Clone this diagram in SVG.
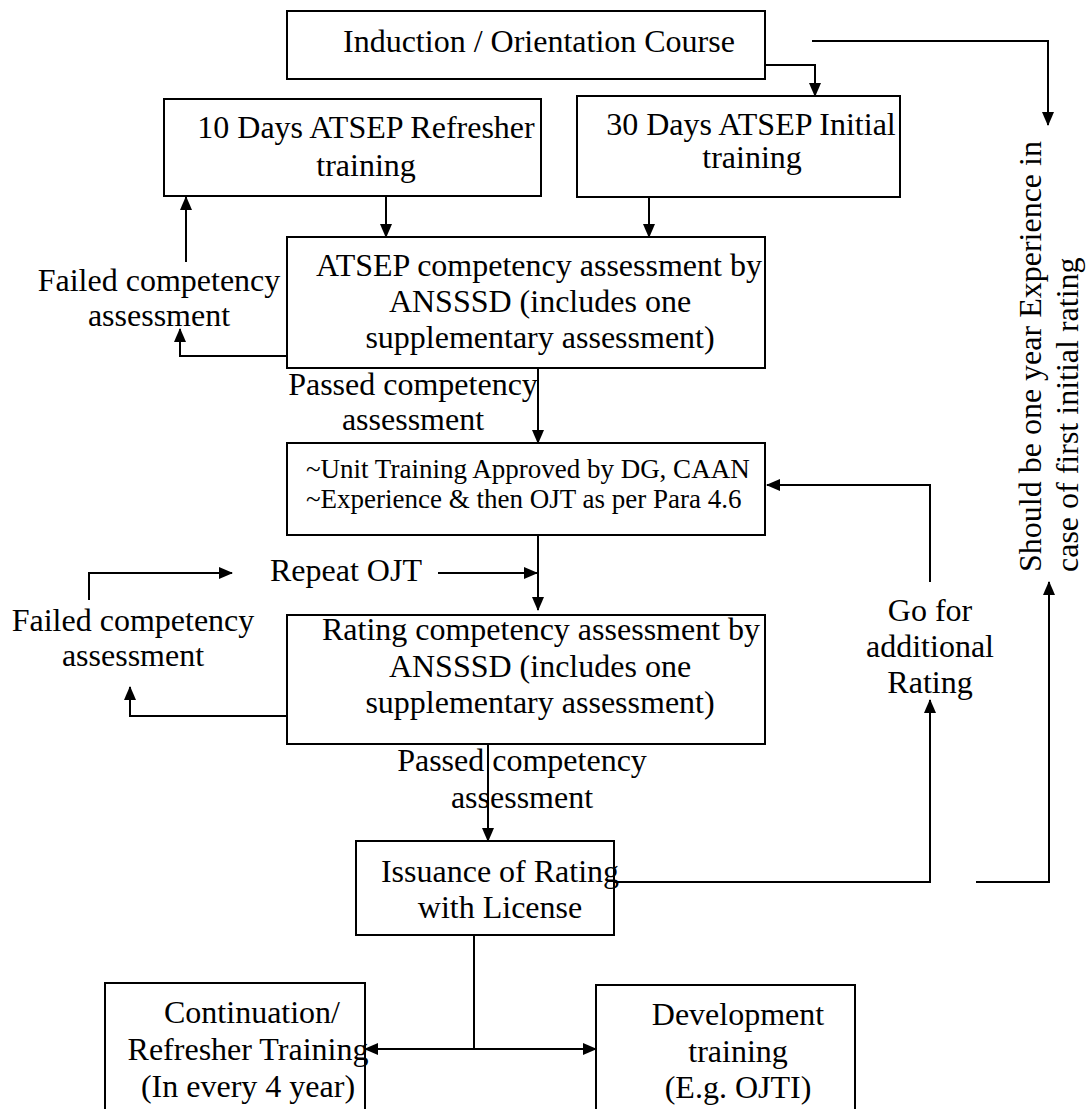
<svg xmlns="http://www.w3.org/2000/svg" width="1091" height="1109" viewBox="0 0 1091 1109">
<style>
.box{fill:#fff;stroke:#000;stroke-width:2}
.t{font-family:"Liberation Serif","Times New Roman",serif;font-size:32px;fill:#000}
.s{font-size:27px}
.c{text-anchor:middle}
.ln{fill:none;stroke:#000;stroke-width:2}
</style>
<defs>
<marker id="ah" markerUnits="userSpaceOnUse" markerWidth="14" markerHeight="12" refX="13" refY="6" orient="auto-start-reverse" viewBox="0 0 14 12">
<path d="M0,0 L14,6 L0,12 z" fill="#000"/>
</marker>
</defs>
<rect width="1091" height="1109" fill="#fff"/>

<g id="connectors">
<path class="ln" d="M765,65 H815 V96" marker-end="url(#ah)"/>
<path class="ln" d="M812,41 H1048 V125" marker-end="url(#ah)"/>
<path class="ln" d="M386,196 V237" marker-end="url(#ah)"/>
<path class="ln" d="M649,197 V237" marker-end="url(#ah)"/>
<path class="ln" d="M186,262 V197" marker-end="url(#ah)"/>
<path class="ln" d="M287,356 H180 V329" marker-end="url(#ah)"/>
<path class="ln" d="M538,368 V443" marker-end="url(#ah)"/>
<path class="ln" d="M538,535 V610" marker-end="url(#ah)"/>
<path class="ln" d="M89,600 V573 H232" marker-end="url(#ah)"/>
<path class="ln" d="M438,573 H537" marker-end="url(#ah)"/>
<path class="ln" d="M287,716 H130 V687" marker-end="url(#ah)"/>
<path class="ln" d="M488,744 V841" marker-end="url(#ah)"/>
<path class="ln" d="M614,882 H930 V700" marker-end="url(#ah)"/>
<path class="ln" d="M930,582 V485 H767" marker-end="url(#ah)"/>
<path class="ln" d="M976,882 H1049 V582" marker-end="url(#ah)"/>
<path class="ln" d="M474,935 V1049"/>
<path class="ln" d="M365,1049 H596" marker-start="url(#ah)" marker-end="url(#ah)"/>
</g>

<g id="induction">
<rect class="box" x="287" y="11" width="478" height="68"/>
<text class="t" x="343" y="52">Induction / Orientation Course</text>
</g>

<g id="refresher10">
<rect class="box" x="164" y="99" width="377" height="97"/>
<text class="t c" x="366" y="138">10 Days ATSEP Refresher</text>
<text class="t c" x="366" y="176">training</text>
</g>

<g id="initial30">
<rect class="box" x="577" y="96" width="323" height="101"/>
<text class="t c" x="751" y="135">30 Days ATSEP Initial</text>
<text class="t c" x="752" y="168">training</text>
</g>

<g id="atsep-assessment">
<rect class="box" x="287" y="237" width="478" height="131"/>
<text class="t c" x="539" y="276">ATSEP competency assessment by</text>
<text class="t c" x="540" y="312">ANSSSD (includes one</text>
<text class="t c" x="540" y="348">supplementary assessment)</text>
</g>

<g id="failed1">
<text class="t c" x="159" y="291">Failed competency</text>
<text class="t c" x="159" y="326">assessment</text>
</g>

<g id="passed1">
<text class="t c" x="413" y="395">Passed competency</text>
<text class="t c" x="413" y="430">assessment</text>
</g>

<g id="unit-training">
<rect class="box" x="287" y="443" width="478" height="92"/>
<text class="t s" x="306" y="478">~Unit Training Approved by DG, CAAN</text>
<text class="t s" x="306" y="508">~Experience &amp; then OJT as per Para 4.6</text>
</g>

<g id="repeat-ojt">
<text class="t" x="270" y="581">Repeat OJT</text>
</g>

<g id="failed2">
<text class="t c" x="133" y="631">Failed competency</text>
<text class="t c" x="133" y="666">assessment</text>
</g>

<g id="rating-assessment">
<rect class="box" x="287" y="615" width="478" height="129"/>
<text class="t c" x="541" y="640">Rating competency assessment by</text>
<text class="t c" x="540" y="677">ANSSSD (includes one</text>
<text class="t c" x="540" y="713">supplementary assessment)</text>
</g>

<g id="passed2">
<text class="t c" x="522" y="771">Passed competency</text>
<text class="t c" x="522" y="808">assessment</text>
</g>

<g id="go-for">
<text class="t c" x="930" y="621">Go for</text>
<text class="t c" x="930" y="657">additional</text>
<text class="t c" x="930" y="693">Rating</text>
</g>

<g id="experience-note">
<text class="t" transform="translate(1041,572) rotate(-90)">Should be one year Experience in</text>
<text class="t" transform="translate(1078,572) rotate(-90)">case of first initial rating</text>
</g>

<g id="issuance">
<rect class="box" x="356" y="841" width="258" height="94"/>
<text class="t c" x="500" y="882">Issuance of Rating</text>
<text class="t c" x="500" y="918">with License</text>
</g>

<g id="continuation">
<rect class="box" x="105" y="983" width="260" height="140"/>
<text class="t c" x="252" y="1023">Continuation/</text>
<text class="t c" x="248" y="1060">Refresher Training</text>
<text class="t c" x="248" y="1097">(In every 4 year)</text>
</g>

<g id="development">
<rect class="box" x="596" y="985" width="259" height="140"/>
<text class="t c" x="738" y="1025">Development</text>
<text class="t c" x="738" y="1062">training</text>
<text class="t c" x="738" y="1098">(E.g. OJTI)</text>
</g>
</svg>
